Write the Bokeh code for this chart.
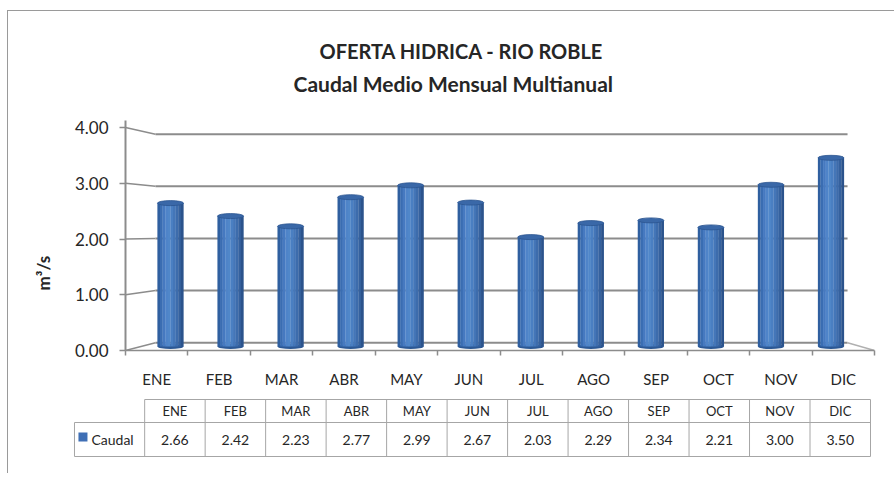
from bokeh.plotting import figure
from bokeh.models import Range1d, FixedTicker, NumeralTickFormatter, LinearAxis, Title
from bokeh.layouts import column
from bokeh.embed import file_html
from bokeh.resources import INLINE
from bokeh.core.properties import value

# ---------------- data ----------------
title = "OFERTA HIDRICA - RIO ROBLE"
subtitle = "Caudal Medio Mensual Multianual"
y_label = "m³/s"
series_name = "Caudal"
months = ["ENE", "FEB", "MAR", "ABR", "MAY", "JUN", "JUL", "AGO", "SEP", "OCT", "NOV", "DIC"]
caudal = [2.66, 2.42, 2.23, 2.77, 2.99, 2.67, 2.03, 2.29, 2.34, 2.21, 3.00, 3.50]
y_ticks = [0, 1, 2, 3, 4]

# ---------------- style ----------------
FONT = "Lato"
GRID = "#8c8c8c"
TEXT = "#262626"
TABLE_LINE = "#a6a6a6"
SHADES = ["#2f5f9f", "#3a6db2", "#4679c0", "#4f84c9", "#5087c9", "#4a7fc2",
          "#4476b8", "#3d6cac", "#35619e", "#2b538c"]
TOP_FILL = "#3a68a8"
TOP_LINE = "#2c5690"
BOTTOM_FILL = "#2c5894"

n = len(months)
Y_END = 4.1256

# oblique 3D projection: depth d from 0 (front) to 1 (back wall)
XO, XF = 0.48, 0.924
YO, YF = 0.14, 0.935


def px(u, d):
    return XO * d + u * (1 - d * (1 - XF))


def py(v, d):
    return YO * d + v * (1 - d * (1 - YF))


# ---------------- chart ----------------
p = figure(width=886, height=385, x_range=Range1d(0, n), y_range=Range1d(0, Y_END),
           min_border_left=117, min_border_right=20, min_border_top=109, min_border_bottom=46,
           output_backend="svg", toolbar_location=None, tools="",
           x_axis_type=None, y_axis_type=None)
p.frame_align = False
p.outline_line_color = None
p.background_fill_color = "white"
p.border_fill_color = "white"
p.title.visible = False

yaxis = LinearAxis(ticker=FixedTicker(ticks=y_ticks, minor_ticks=[]),
                   formatter=NumeralTickFormatter(format="0.00"))
yaxis.axis_line_color = GRID
yaxis.axis_line_width = 2
yaxis.major_tick_line_color = GRID
yaxis.major_tick_line_width = 1.5
yaxis.major_tick_out = 6
yaxis.major_tick_in = 0
yaxis.minor_tick_line_color = None
yaxis.major_label_standoff = 11
yaxis.major_label_text_font = FONT
yaxis.major_label_text_font_size = "17px"
yaxis.major_label_text_color = TEXT
p.add_layout(yaxis, "left")

xaxis = LinearAxis(ticker=FixedTicker(ticks=[i + 0.5 for i in range(n)],
                                      minor_ticks=list(range(n + 1))),
                   major_label_overrides={i + 0.5: m for i, m in enumerate(months)})
xaxis.axis_line_color = GRID
xaxis.axis_line_width = 1.5
xaxis.major_tick_line_color = None
xaxis.major_tick_out = 0
xaxis.major_tick_in = 0
xaxis.minor_tick_line_color = GRID
xaxis.minor_tick_line_width = 1.5
xaxis.minor_tick_out = 5
xaxis.minor_tick_in = 0
xaxis.major_label_standoff = 14
xaxis.major_label_text_font = FONT
xaxis.major_label_text_font_size = "15px"
xaxis.major_label_text_color = TEXT
p.add_layout(xaxis, "below")

# titles (first added sits closest to the frame)
p.add_layout(Title(text=subtitle, align="left", offset=168, standoff=50, text_font=FONT,
                   text_font_style="bold", text_font_size="21px", text_color=TEXT), "above")
p.add_layout(Title(text=title, align="left", offset=194, standoff=-38, text_font=FONT,
                   text_font_style="bold", text_font_size="20px", text_color=TEXT), "above")
# y axis title
p.add_layout(Title(text=y_label, align="left", offset=60, standoff=36, text_font=FONT,
                   text_font_style="bold", text_font_size="17px", text_color=TEXT), "left")

# back wall gridlines and left-wall connectors
gx0, gx1, gy = [], [], []
for v in y_ticks:
    gx0.append(px(0, 1)); gx1.append(px(n, 1)); gy.append(py(v, 1))
p.segment(x0=gx0, y0=gy, x1=gx1, y1=gy, line_color=GRID, line_width=2)
p.segment(x0=[0] * len(y_ticks), y0=y_ticks, x1=[px(0, 1)] * len(y_ticks),
          y1=[py(v, 1) for v in y_ticks], line_color=GRID, line_width=1.5)
# floor right edge
p.segment(x0=[px(n, 1)], y0=[py(0, 1)], x1=[n], y1=[0], line_color="#b0b0b0", line_width=1.5)

# cylinders
bw = 0.417
N = len(SHADES)
sx, stop, sbot, scol = [], [], [], []
cx, ctop = [], []
for k, val in enumerate(caudal):
    c = px(k + 0.5, 0.5)
    cx.append(c)
    ctop.append(py(val, 0.5))
    for j in range(N):
        sx.append(c - bw / 2 + (j + 0.5) * bw / N)
        stop.append(py(val, 0.5))
        sbot.append(py(0, 0.5))
        scol.append(SHADES[j])
base = py(0, 0.5)
eh = 0.09
p.ellipse(x=cx, y=[base] * n, width=bw, height=eh, fill_color=BOTTOM_FILL, line_color=None)
p.vbar(x=sx, top=stop, bottom=sbot, width=bw / N * 1.08, fill_color=scol, line_color=None)
p.ellipse(x=cx, y=ctop, width=bw, height=eh, fill_color=TOP_FILL, line_color=TOP_LINE,
          line_width=0.8)

# ---------------- data table ----------------
KEYW = 1.16
pt = figure(width=886, height=77, x_range=Range1d(-KEYW - 1 / 60.5, n + 1 / 60.5),
            y_range=Range1d(-1, 58),
            min_border_left=65, min_border_right=23, min_border_top=2, min_border_bottom=16,
            output_backend="svg", toolbar_location=None, tools="",
            x_axis_type=None, y_axis_type=None)
pt.frame_align = False
pt.outline_line_color = None
pt.background_fill_color = "white"
pt.border_fill_color = "white"
pt.title.visible = False

ROW_TOP, ROW_MID, ROW_BOT = 57, 34, 0
pt.segment(x0=list(range(n + 1)), y0=[ROW_BOT] * (n + 1), x1=list(range(n + 1)),
           y1=[ROW_TOP] * (n + 1), line_color=TABLE_LINE, line_width=1)
pt.segment(x0=[-KEYW, 0, -KEYW, -KEYW], y0=[ROW_BOT, ROW_TOP, ROW_MID, ROW_BOT],
           x1=[-KEYW, n, n, n], y1=[ROW_MID, ROW_TOP, ROW_MID, ROW_BOT],
           line_color=TABLE_LINE, line_width=1)
cols = [i + 0.5 for i in range(n)]
pt.text(x=cols, y=[(ROW_TOP + ROW_MID) / 2] * n, text=months, text_align="center",
        text_baseline="middle", text_font=value(FONT), text_font_size="13px", text_color=TEXT)
pt.text(x=cols, y=[(ROW_MID + ROW_BOT) / 2] * n, text=[f"{v:.2f}" for v in caudal],
        text_align="center", text_baseline="middle", text_font=value(FONT),
        text_font_size="14px", text_color=TEXT)
pt.scatter(x=[-1.02], y=[19.5], marker="square", size=9, fill_color="#3f6fb5", line_color=None)
pt.text(x=[-0.88], y=[(ROW_MID + ROW_BOT) / 2], text=[series_name], text_align="left",
        text_baseline="middle", text_font=value(FONT), text_font_size="14px", text_color=TEXT)

layout = column(p, pt, styles={"margin-left": "7px", "margin-top": "10px",
                               "border-left": "1px solid #9a9a9a",
                               "border-top": "1px solid #9a9a9a"})

open("out.html", "w").write(file_html(layout, INLINE))
